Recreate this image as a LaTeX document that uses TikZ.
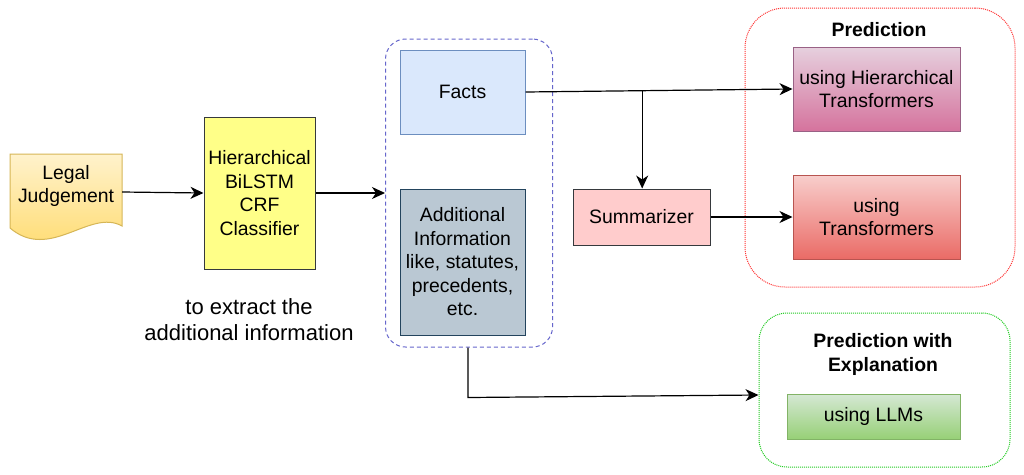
\documentclass[tikz,border=0pt]{standalone}
\usepackage{fontspec}
\setmainfont{Liberation Sans}
\usetikzlibrary{arrows.meta,calc}
\definecolor{docTop}{HTML}{FFF2CC}
\definecolor{docBot}{HTML}{FFD966}
\definecolor{docLine}{HTML}{D6B656}
\definecolor{yelFill}{HTML}{FFFF88}
\definecolor{darkLine}{HTML}{36393D}
\definecolor{factFill}{HTML}{DAE8FC}
\definecolor{factLine}{HTML}{6C8EBF}
\definecolor{addFill}{HTML}{BAC8D3}
\definecolor{addLine}{HTML}{23445D}
\definecolor{sumFill}{HTML}{FFCCCC}
\definecolor{htTop}{HTML}{E6D0DE}
\definecolor{htBot}{HTML}{D5739D}
\definecolor{htLine}{HTML}{996185}
\definecolor{tTop}{HTML}{F8CECC}
\definecolor{tBot}{HTML}{EA6B66}
\definecolor{tLine}{HTML}{B85450}
\definecolor{lTop}{HTML}{D5E8D4}
\definecolor{lBot}{HTML}{97D077}
\definecolor{lLine}{HTML}{82B366}
\definecolor{grpBlue}{HTML}{6666CC}
\definecolor{grpRed}{HTML}{FF3333}
\definecolor{grpGreen}{HTML}{22CC22}
\newcommand\bxf{\fontsize{19.4}{23.5}\selectfont}
\begin{document}
\begin{tikzpicture}[x=1pt,y=-1pt,
  box/.style={draw, line width=1pt, inner sep=0pt, align=center, font=\bxf},
  grp/.style={line width=1pt, inner sep=0pt},
  lbl/.style={inner sep=0pt, align=center, font=\bfseries\bxf},
  arr/.style={-{Stealth[length=13pt,width=12pt,inset=4pt]}, line width=1.2pt, black}]
\useasboundingbox (0,0) rectangle (1024,474);
\fill[white] (0,0) rectangle (1024,474);

% groups
\node[grp, draw=grpBlue, dash pattern=on 4pt off 3pt, rounded corners=20pt,
      minimum width=167, minimum height=308] (grp) at (469,193) {};
\node[grp, draw=grpRed, dash pattern=on 1pt off 1pt, rounded corners=40pt,
      minimum width=270, minimum height=279] (pred) at (880,147.5) {};
\node[grp, draw=grpGreen, dash pattern=on 1pt off 1pt, rounded corners=28pt,
      minimum width=251, minimum height=154] (expl) at (884.5,390) {};

% document shape
\path[draw=docLine, line width=1pt, top color=docTop, bottom color=docBot]
  (10,154) -- (122,154) -- (122,226) .. controls (90,208) and (50,262) .. (10,228) -- cycle;
\node[inner sep=0pt, minimum width=112, minimum height=74] (doc) at (66,190) {};
\node[inner sep=0pt, align=center, font=\bxf] (doctxt) at (66,186) {Legal\\Judgement};

% boxes
\node[box, fill=yelFill, draw=darkLine, minimum width=111, minimum height=152]
  (cls) at (259.5,193) {Hierarchical\\BiLSTM\\CRF\\Classifier};
\node[box, fill=factFill, draw=factLine, minimum width=125, minimum height=84]
  (facts) at (462.5,92) {Facts};
\node[box, fill=addFill, draw=addLine, minimum width=125, minimum height=146]
  (addl) at (462.5,262) {Additional\\Information\\like, statutes,\\precedents,\\etc.};
\node[box, fill=sumFill, draw=darkLine, minimum width=137, minimum height=56]
  (summ) at (641.5,217) {Summarizer};
\node[box, draw=htLine, top color=htTop, bottom color=htBot, minimum width=167, minimum height=84]
  (ht) at (876.5,89) {using Hierarchical\\Transformers};
\node[box, draw=tLine, top color=tTop, bottom color=tBot, minimum width=167, minimum height=84]
  (tr) at (876.5,217) {using\\Transformers};
\node[box, draw=lLine, top color=lTop, bottom color=lBot, minimum width=173, minimum height=45]
  (llm) at (873.5,416.5) {using LLMs};

% labels
\node[inner sep=0pt, align=center, font=\fontsize{22}{26}\selectfont] (note) at (249,320)
  {to extract the\\additional information};
\node[lbl] (predlbl) at (879,30) {Prediction};
\node[lbl] (expllbl) at (883,354.5) {Prediction with\\Explanation};

% connectors
\draw[arr] (doc.east |- 0,192) -- (cls.west);
\draw[arr] (cls.east) -- (grp.west);
\draw[arr] (facts.east) -- (ht.west);
\coordinate (br) at ($(facts.east)!0.437!(ht.west)$);
\draw[arr] (br) -- (br |- summ.north);
\draw[arr] (summ.east) -- (tr.west);
\coordinate (dn) at ($(grp.south)+(-1,50)$);
\draw[arr] (grp.south -| dn) -- (dn) -- ($(expl.west)+(0,5)$);
\end{tikzpicture}
\end{document}
